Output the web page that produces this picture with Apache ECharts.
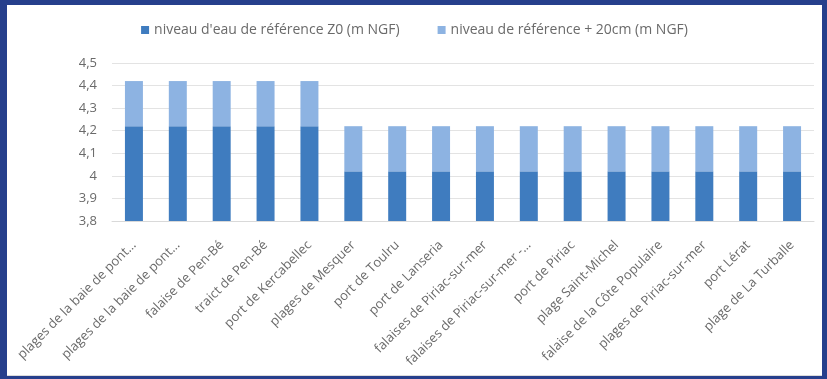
<!DOCTYPE html>
<html lang="fr">
<head>
<meta charset="utf-8">
<title>Niveaux d'eau de référence</title>
<script src="https://cdn.jsdelivr.net/npm/echarts@6/dist/echarts.min.js"></script>
<style>
  html, body { margin: 0; padding: 0; width: 827px; height: 379px; overflow: hidden; background: #263f8c; }
  #chart { position: absolute; left: 7px; top: 5px; width: 815px; height: 371px; background: #ffffff; border-bottom: 1px solid #dcdcdc; box-sizing: border-box; }
</style>
</head>
<body>
<div id="chart"></div>
<script>
// Sites along the coast (labels as printed on the axis)
const sites = [
  'plages de la baie de pont…',
  'plages de la baie de pont…',
  'falaise de Pen-Bé',
  'traict de Pen-Bé',
  'port de Kercabellec',
  'plages de Mesquer',
  'port de Toulru',
  'port de Lanseria',
  'falaises de Piriac-sur-mer',
  'falaises de Piriac-sur-mer -…',
  'port de Piriac',
  'plage Saint-Michel',
  'falaise de la Côte Populaire',
  'plages de Piriac-sur-mer',
  'port Lérat',
  'plage de La Turballe'
];

// Reference water level Z0 (m NGF)
const niveauZ0 = [4.22, 4.22, 4.22, 4.22, 4.22, 4.02, 4.02, 4.02, 4.02, 4.02, 4.02, 4.02, 4.02, 4.02, 4.02, 4.02];

// Extra 20 cm stacked on top of Z0 (m)
const surcote20cm = [0.2, 0.2, 0.2, 0.2, 0.2, 0.2, 0.2, 0.2, 0.2, 0.2, 0.2, 0.2, 0.2, 0.2, 0.2, 0.2];

const seriesNames = [
  "niveau d'eau de référence Z0 (m NGF)",
  'niveau de référence + 20cm (m NGF)'
];

// Value axis range and ticks
const yMin = 3.8, yMax = 4.5, yStep = 0.1;

const chart = echarts.init(document.getElementById('chart'), null, { renderer: 'canvas' });
const textColor = '#6a6a6a';
const fontFamily = '"Open Sans", "Liberation Sans", Arial, sans-serif';

chart.setOption({
  animation: false,
  textStyle: { fontFamily: fontFamily },
  legend: {
    top: 13,
    left: 'center',
    itemWidth: 8,
    itemHeight: 8,
    itemGap: 38,
    icon: 'rect',
    textStyle: { color: textColor, fontSize: 14, fontFamily: fontFamily },
    data: seriesNames
  },
  grid: { left: 105, right: 8, top: 58, bottom: 154, containLabel: false },
  xAxis: {
    type: 'category',
    data: sites,
    axisLine: { show: true, lineStyle: { color: '#d9d9d9' } },
    axisTick: { show: false },
    axisLabel: {
      rotate: 45,
      interval: 0,
      margin: 22,
      color: textColor,
      fontSize: 13,
      fontFamily: fontFamily
    }
  },
  yAxis: {
    type: 'value',
    min: yMin,
    max: yMax,
    interval: yStep,
    axisLine: { show: false },
    axisTick: { show: false },
    splitLine: { lineStyle: { color: '#e3e3e3', width: 1 } },
    axisLabel: {
      margin: 15,
      color: textColor,
      fontSize: 13,
      fontFamily: fontFamily,
      formatter: function (v) {
        return (Math.round(v * 10) / 10).toString().replace('.', ',');
      }
    }
  },
  series: [
    {
      name: seriesNames[0],
      type: 'bar',
      stack: 'niveau',
      barWidth: '41%',
      itemStyle: { color: '#3f7cbf' },
      data: niveauZ0
    },
    {
      name: seriesNames[1],
      type: 'bar',
      stack: 'niveau',
      barWidth: '41%',
      itemStyle: { color: '#8db3e2' },
      data: surcote20cm
    }
  ]
});
</script>
</body>
</html>
